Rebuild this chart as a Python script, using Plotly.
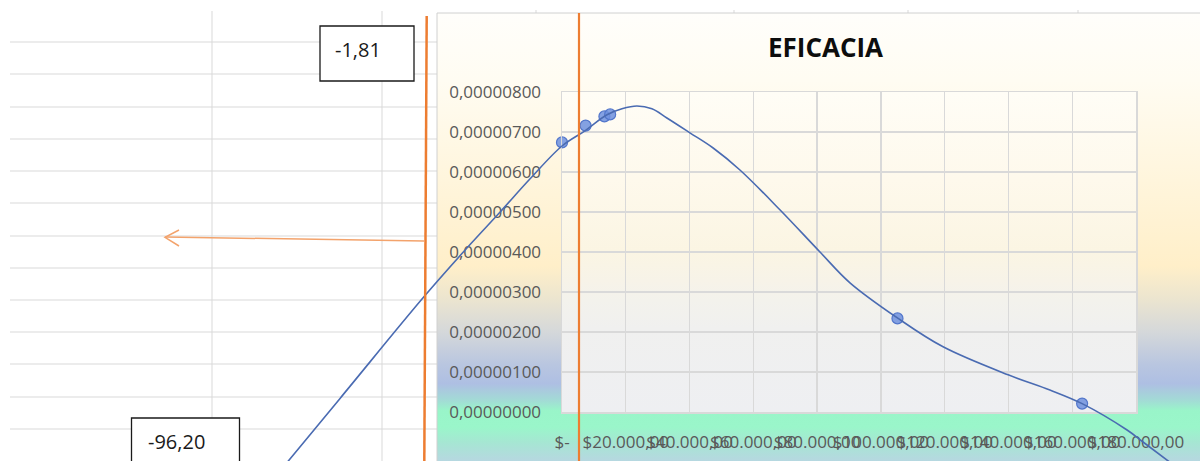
import base64
import plotly.graph_objects as go

# ---------------- data ----------------
x_data = [0, 7400, 13300, 15100, 105200, 163100]
y_data = [0.00000674, 0.00000716, 0.00000739, 0.00000744, 0.00000234, 0.00000021]

trend_x = [-97800, -69600, -43300, -28900, -19400, -10000, 0, 7200, 14100, 18800,
           23500, 28200, 32900, 40100, 47400, 55800, 68400, 80900, 90300, 105400,
           119500, 139900, 153000, 163100, 177200, 182200, 192200]
trend_y = [-0.00000238, 0.00000034, 0.00000288, 0.00000418, 0.00000500, 0.00000583,
           0.00000665, 0.00000703, 0.00000743, 0.00000758, 0.00000765, 0.00000758,
           0.00000735, 0.00000698, 0.00000660, 0.00000605, 0.00000505, 0.00000400,
           0.00000323, 0.00000234, 0.00000163, 0.00000093, 0.00000055, 0.00000021,
           -0.00000045, -0.00000075, -0.00000135]

x_tickvals = [0, 20000, 40000, 60000, 80000, 100000, 120000, 140000, 160000, 180000]
x_ticktext = ["$-", "$20.000,00", "$40.000,00", "$60.000,00", "$80.000,00",
              "$100.000,00", "$120.000,00", "$140.000,00", "$160.000,00", "$180.000,00"]
y_tickvals = [0, 0.000001, 0.000002, 0.000003, 0.000004, 0.000005, 0.000006, 0.000007, 0.000008]
y_ticktext = ["0,00000000", "0,00000100", "0,00000200", "0,00000300", "0,00000400",
              "0,00000500", "0,00000600", "0,00000700", "0,00000800"]

chart_title = "EFICACIA"
note_labels = ["-1,81", "-96,20"]

# ---------------- geometry ----------------
W, H = 1200, 461
PLOT_L, PLOT_R, PLOT_T, PLOT_B = 562, 1136, 92, 412
CHART_L, CHART_T = 437, 13
FONT = "Open Sans"


def fx(px):
    return px / W


def fy(py):
    return 1 - py / H


xdom = [fx(PLOT_L), fx(PLOT_R)]
ydom = [fy(PLOT_B), fy(PLOT_T)]
xr = [0, 180000]
yr = [0, 0.000008]


def extend(rng, dom):
    span = (rng[1] - rng[0]) / (dom[1] - dom[0])
    return [rng[0] - dom[0] * span, rng[1] + (1 - dom[1]) * span]


x2r = extend(xr, xdom)
y2r = extend(yr, ydom)


def grad_svg(stops):
    s = "".join(f'<stop offset="{o}" stop-color="{c}"/>' for o, c in stops)
    svg = ('<svg xmlns="http://www.w3.org/2000/svg" width="100" height="100" '
           'viewBox="0 0 100 100" preserveAspectRatio="none"><defs>'
           f'<linearGradient id="g" x1="0" y1="0" x2="0" y2="1">{s}</linearGradient>'
           '</defs><rect x="0" y="0" width="100" height="100" fill="url(#g)"/></svg>')
    return "data:image/svg+xml;base64," + base64.b64encode(svg.encode()).decode()


chart_stops = [(0, "#FFFEFB"), (0.15, "#FFFCF2"), (0.373, "#FFF5DC"), (0.5625, "#FFEFC9"),
               (0.634, "#ECE5CF"), (0.708, "#D5D8DA"), (0.781, "#B9C6E0"), (0.824, "#AEBFE3"),
               (0.862, "#A2DCD5"), (0.884, "#99F5C9"), (0.92, "#9AF6CA"), (0.955, "#A6E6D3"),
               (1, "#B8D6E2")]
plot_stops = [(0, "#FFFDF6"), (0.275, "#FEF9EC"), (0.494, "#FBF5E3"), (0.5875, "#F7F3E8"),
              (0.65, "#F3F2EC"), (0.74, "#F0F0EF"), (1, "#EEEFF2")]

images = [
    dict(source=grad_svg(chart_stops), xref="paper", yref="paper", x=fx(CHART_L), y=fy(CHART_T),
         sizex=fx(W + 2) - fx(CHART_L), sizey=fy(CHART_T) - fy(H + 2), xanchor="left",
         yanchor="top", sizing="stretch", layer="below"),
    dict(source=grad_svg(plot_stops), xref="paper", yref="paper", x=fx(PLOT_L), y=fy(PLOT_T),
         sizex=fx(PLOT_R) - fx(PLOT_L), sizey=fy(PLOT_T) - fy(PLOT_B), xanchor="left",
         yanchor="top", sizing="stretch", layer="below"),
]

shapes = []
GRID = "#D9D9D9"
# spreadsheet cell grid
for yy in [42, 74, 107, 139, 171, 203, 236, 268, 300, 332, 364, 397, 429]:
    shapes.append(dict(type="line", xref="paper", yref="paper", x0=fx(10), x1=fx(CHART_L),
                       y0=fy(yy), y1=fy(yy), line=dict(color=GRID, width=1), layer="below"))
for xx in [212, 382]:
    shapes.append(dict(type="line", xref="paper", yref="paper", x0=fx(xx), x1=fx(xx),
                       y0=fy(11), y1=fy(H + 2), line=dict(color=GRID, width=1), layer="below"))
for xx in [536, 734, 908, 1078]:
    shapes.append(dict(type="line", xref="paper", yref="paper", x0=fx(xx), x1=fx(xx),
                       y0=fy(10), y1=fy(CHART_T), line=dict(color=GRID, width=1), layer="below"))
# chart border
shapes.append(dict(type="rect", xref="paper", yref="paper", x0=fx(CHART_L), x1=fx(W + 5),
                   y0=fy(CHART_T), y1=fy(H + 5), line=dict(color="#D0D0D0", width=1),
                   fillcolor="rgba(0,0,0,0)", layer="below"))
# orange drawn lines
ORANGE = "#ED7D31"
shapes.append(dict(type="line", xref="paper", yref="paper", x0=fx(426.7), x1=fx(424.3),
                   y0=fy(16), y1=fy(H + 2), line=dict(color=ORANGE, width=2.5), layer="above"))
shapes.append(dict(type="line", xref="paper", yref="paper", x0=fx(579), x1=fx(579),
                   y0=fy(CHART_T), y1=fy(H + 2), line=dict(color=ORANGE, width=2.2), layer="above"))
ARROW = "#F3A36C"
shapes.append(dict(type="line", xref="paper", yref="paper", x0=fx(424), x1=fx(165),
                   y0=fy(241), y1=fy(237), line=dict(color=ARROW, width=1.5), layer="above"))
shapes.append(dict(type="path", xref="paper", yref="paper",
                   path=f"M {fx(179)} {fy(230)} L {fx(165)} {fy(237.3)} L {fx(179)} {fy(246)}",
                   line=dict(color=ARROW, width=1.5), layer="above"))
# text boxes
shapes.append(dict(type="rect", xref="paper", yref="paper", x0=fx(320), x1=fx(414),
                   y0=fy(26), y1=fy(81), line=dict(color="#1A1A1A", width=1.3),
                   fillcolor="white", layer="above"))
shapes.append(dict(type="rect", xref="paper", yref="paper", x0=fx(131.5), x1=fx(239.5),
                   y0=fy(418), y1=fy(480), line=dict(color="#1A1A1A", width=1.3),
                   fillcolor="white", layer="above"))

annotations = [
    dict(text=f"<b>{chart_title}</b>", xref="paper", yref="paper", x=fx(825), y=fy(47),
         xanchor="center", yanchor="middle", showarrow=False,
         font=dict(family=FONT, size=26, color="#0D0D0D")),
    dict(text=note_labels[0], xref="paper", yref="paper", x=fx(333), y=fy(49),
         xanchor="left", yanchor="middle", showarrow=False,
         font=dict(family=FONT, size=20, color="#1A1A1A")),
    dict(text=note_labels[1], xref="paper", yref="paper", x=fx(146), y=fy(441.5),
         xanchor="left", yanchor="middle", showarrow=False,
         font=dict(family=FONT, size=20, color="#1A1A1A")),
]

fig = go.Figure()
fig.add_trace(go.Scatter(
    x=x_data, y=y_data, mode="markers", cliponaxis=False,
    marker=dict(size=11, color="rgba(110,145,222,0.85)", line=dict(color="#5276CB", width=1.2)),
    xaxis="x", yaxis="y", hoverinfo="skip"))
fig.add_trace(go.Scatter(
    x=trend_x, y=trend_y, mode="lines",
    line=dict(shape="spline", smoothing=1.0, color="#4A6BB2", width=1.6),
    xaxis="x2", yaxis="y2", hoverinfo="skip"))

tickfont = dict(family=FONT, size=17, color="#595959")
fig.update_layout(
    width=W, height=H, autosize=False,
    margin=dict(l=0, r=0, t=0, b=0, pad=0, autoexpand=False),
    paper_bgcolor="white", plot_bgcolor="rgba(0,0,0,0)",
    showlegend=False, hovermode=False,
    xaxis=dict(domain=xdom, range=xr, anchor="y", tickvals=x_tickvals, ticktext=x_ticktext,
               tickangle=0, ticklabeloverflow="allow", tickfont=tickfont, automargin=False,
               showgrid=True, gridcolor=GRID, gridwidth=1.3, zeroline=False,
               showline=True, linecolor=GRID, linewidth=1.5, mirror=True,
               ticks="outside", ticklen=14, tickcolor="rgba(0,0,0,0)"),
    yaxis=dict(domain=ydom, range=yr, anchor="x", tickvals=y_tickvals, ticktext=y_ticktext,
               tickfont=tickfont, automargin=False, showgrid=True, gridcolor=GRID, gridwidth=1.3,
               zeroline=False, showline=True, linecolor=GRID, linewidth=1.5, mirror=True,
               ticks="outside", ticklen=16, tickcolor="rgba(0,0,0,0)"),
    xaxis2=dict(domain=[0, 1], range=x2r, anchor="y2", visible=False, fixedrange=True,
                automargin=False),
    yaxis2=dict(domain=[0, 1], range=y2r, anchor="x2", visible=False, fixedrange=True,
                automargin=False),
    images=images, shapes=shapes, annotations=annotations,
)

fig.write_html(
    "out.html",
    config={"displayModeBar": False, "staticPlot": True},
    post_script="document.documentElement.style.margin='0';document.documentElement.style.overflow='hidden';"
                "document.body.style.margin='0';document.body.style.padding='0';document.body.style.overflow='hidden';",
)
